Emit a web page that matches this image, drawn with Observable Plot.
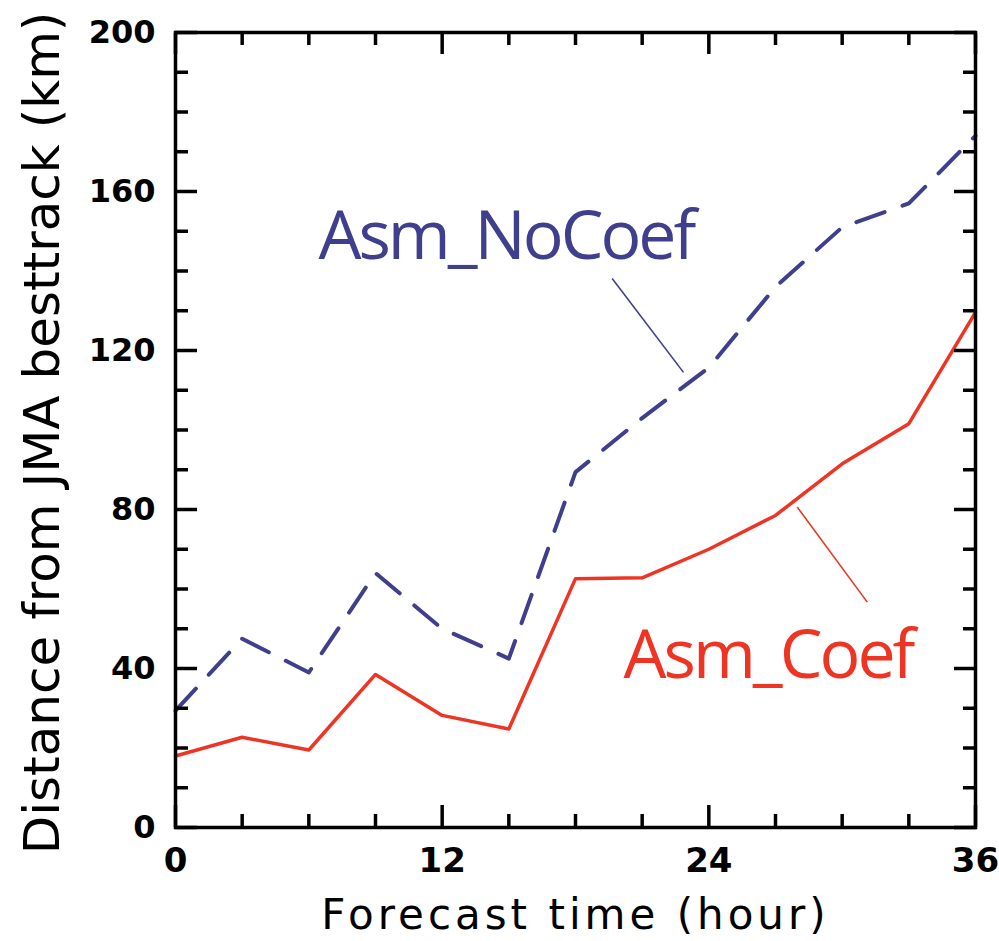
<!DOCTYPE html>
<html>
<head>
<meta charset="utf-8">
<script src="https://cdn.jsdelivr.net/npm/d3@7"></script>
<script src="https://cdn.jsdelivr.net/npm/@observablehq/plot@0.6"></script>
<style>
  html, body { margin: 0; padding: 0; background: white; }
</style>
</head>
<body>
<div id="chart"></div>
<script>
// Forecast hours
const hours = [0, 3, 6, 9, 12, 15, 18, 21, 24, 27, 30, 33, 36];
// Distance from JMA best track (km)
const asmCoef   = [18, 22.7, 19.5, 38.5, 28.2, 24.8, 62.6, 62.8, 70, 78.5, 91.5, 101.6, 129.6];
const asmNoCoef = [29.4, 47.5, 39, 64, 50, 42.5, 89.4, 103, 115.7, 136, 151, 157, 174];

// Tick values
const xMajor = [0, 12, 24, 36];
const xMinor = [3, 6, 9, 15, 18, 21, 27, 30, 33];
const yMajor = [0, 40, 80, 120, 160, 200];
const yMinor = [10, 20, 30, 50, 60, 70, 90, 100, 110, 130, 140, 150, 170, 180, 190];

// Text
const xTitle = "Forecast time (hour)";
const yTitle = "Distance from JMA besttrack (km)";
const seriesNames = ["Asm_NoCoef", "Asm_Coef"];
// annotation anchor (data coordinates)
const labelX = [6.43, 20.16];
const labelY = [143.1, 37.7];
// leader lines (data coordinates)
const leaderX1 = [19.65, 27.98];
const leaderY1 = [138.1, 80.6];
const leaderX2 = [22.86, 31.13];
const leaderY2 = [114.5, 56.7];

const RED = "#ee3524";
const BLUE = "#3f3f8e";

const coefData = hours.map((h, i) => ({hour: h, km: asmCoef[i]}));
const noCoefData = hours.map((h, i) => ({hour: h, km: asmNoCoef[i]}));

const tickOpts = {stroke: "black", strokeWidth: 3.5, tickFormat: () => "", label: null};

const chart = Plot.plot({
  width: 999,
  height: 941,
  marginLeft: 175,
  marginRight: 24,
  marginTop: 32,
  marginBottom: 114,
  style: {fontFamily: "DejaVu Sans", background: "white", overflow: "visible"},
  x: {domain: [0, 36], axis: null},
  y: {domain: [0, 200], axis: null},
  marks: [
    // data lines
    Plot.line(noCoefData, {x: "hour", y: "km", stroke: BLUE, strokeWidth: 4, strokeDasharray: "30,19"}),
    Plot.line(coefData, {x: "hour", y: "km", stroke: RED, strokeWidth: 3.5}),
    // leaders
    Plot.link([0], {x1: leaderX1[0], y1: leaderY1[0], x2: leaderX2[0], y2: leaderY2[0], stroke: BLUE, strokeWidth: 1.6}),
    Plot.link([0], {x1: leaderX1[1], y1: leaderY1[1], x2: leaderX2[1], y2: leaderY2[1], stroke: RED, strokeWidth: 1.6}),
    // annotation labels
    Plot.text([seriesNames[0]], {x: labelX[0], y: labelY[0], text: d => d, textAnchor: "start", lineAnchor: "bottom", fontSize: 68, fontFamily: "Open Sans", fill: BLUE}),
    Plot.text([seriesNames[1]], {x: labelX[1], y: labelY[1], text: d => d, textAnchor: "start", lineAnchor: "bottom", fontSize: 68, fontFamily: "Open Sans", fill: RED}),
    // inward ticks on all four sides
    Plot.axisX(xMinor, {anchor: "bottom", tickSize: -13, ...tickOpts}),
    Plot.axisX(xMajor, {anchor: "bottom", tickSize: -22, ...tickOpts}),
    Plot.axisX(xMinor, {anchor: "top", tickSize: -12, ...tickOpts}),
    Plot.axisX(xMajor, {anchor: "top", tickSize: -21, ...tickOpts}),
    Plot.axisY(yMinor, {anchor: "left", tickSize: -13, ...tickOpts}),
    Plot.axisY(yMajor, {anchor: "left", tickSize: -22, ...tickOpts}),
    Plot.axisY(yMinor, {anchor: "right", tickSize: -13, ...tickOpts}),
    Plot.axisY(yMajor, {anchor: "right", tickSize: -22, ...tickOpts}),
    // tick labels
    Plot.axisX(xMajor, {anchor: "bottom", tickSize: 0, tickPadding: 20, fontSize: 34, fontWeight: "bold", fontFamily: "DejaVu Sans", fill: "black", label: null}),
    Plot.axisY(yMajor, {anchor: "left", tickSize: 0, tickPadding: 20, fontSize: 32, fontWeight: "bold", fontFamily: "DejaVu Sans", fill: "black", label: null}),
    // axis titles
    Plot.text([xTitle], {frameAnchor: "bottom", dy: 88, text: d => d, textAnchor: "middle", lineAnchor: "middle", fontSize: 42, fontFamily: "DejaVu Sans", fill: "black"}),
    Plot.text([yTitle], {frameAnchor: "left", dx: -133, dy: 3, rotate: -90, text: d => d, textAnchor: "middle", lineAnchor: "middle", fontSize: 50, fontFamily: "DejaVu Sans", fill: "black"}),
    // frame
    Plot.frame({stroke: "black", strokeWidth: 3.5})
  ]
});

d3.select(chart).selectAll("text")
  .filter(function() { return this.textContent.startsWith("Asm_"); })
  .style("letter-spacing", "-3px");
d3.select(chart).selectAll("text")
  .filter(function() { return this.textContent === xTitle; })
  .style("letter-spacing", "4px");

document.getElementById("chart").appendChild(chart);
</script>
</body>
</html>
